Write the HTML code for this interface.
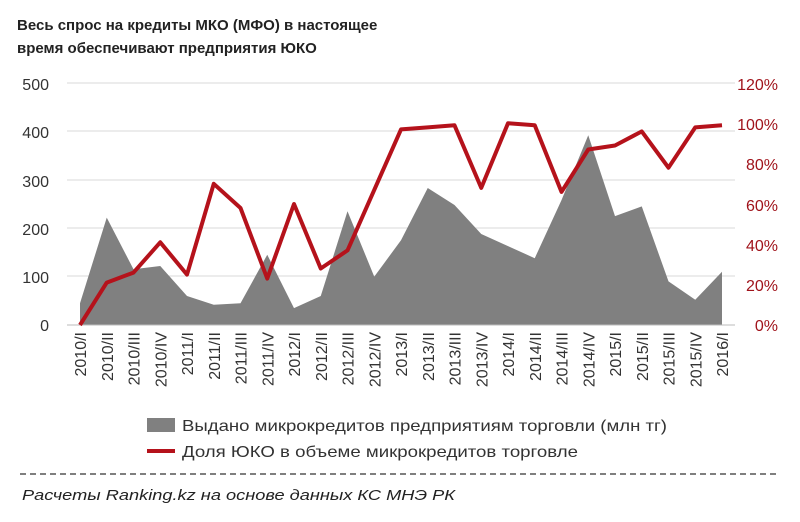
<!DOCTYPE html><html><head><meta charset="utf-8"><style>body{margin:0;background:#fff;font-family:"Liberation Sans",sans-serif}</style></head><body>
<svg width="800" height="517" xmlns="http://www.w3.org/2000/svg" font-family="Liberation Sans, sans-serif">
<text x="17" y="30" font-size="15" font-weight="bold" fill="#222">Весь спрос  на кредиты МКО (МФО) в настоящее</text>
<text x="17" y="53" font-size="15" font-weight="bold" fill="#222">время обеспечивают предприятия ЮКО</text>
<g stroke="#d9d9d9" stroke-width="1">
<line x1="67" x2="735" y1="83" y2="83"/><line x1="67" x2="735" y1="131" y2="131"/><line x1="67" x2="735" y1="180" y2="180"/><line x1="67" x2="735" y1="228" y2="228"/><line x1="67" x2="735" y1="276" y2="276"/>
</g>
<g font-size="16" fill="#333" text-anchor="end">
<text x="49" y="90">500</text><text x="49" y="138">400</text><text x="49" y="187">300</text><text x="49" y="235">200</text><text x="49" y="283">100</text><text x="49" y="331">0</text>
</g>
<g font-size="16" fill="#a0131b" text-anchor="end">
<text x="778" y="90">120%</text><text x="778" y="130">100%</text><text x="778" y="170">80%</text><text x="778" y="211">60%</text><text x="778" y="251">40%</text><text x="778" y="291">20%</text><text x="778" y="331">0%</text>
</g>
<path d="M80,325 L80,303.2 L106.75,217.6 L133.5,269.3 L160.25,266 L187,296 L213.75,304.7 L240.5,303.2 L267.25,254.8 L294,308.1 L320.75,296 L347.5,211.3 L374.25,276.6 L401,240.3 L427.75,188 L454.5,205 L481.25,234 L508,246.1 L534.75,258.2 L561.5,200.1 L588.25,135.3 L615,216.1 L641.75,206.4 L668.5,281.4 L695.25,299.8 L722,271.8 L722,325 Z" fill="#808080"/>
<line x1="67" x2="735" y1="325" y2="325" stroke="#bbb"/>
<path d="M80,325 L106.75,282.6 L133.5,272.6 L160.25,242.3 L187,274.6 L213.75,183.8 L240.5,208 L267.25,278.6 L294,204 L320.75,268.5 L347.5,250.4 L374.25,189.9 L401,129.4 L427.75,127.4 L454.5,125.3 L481.25,187.9 L508,123.3 L534.75,125.3 L561.5,191.9 L588.25,149.5 L615,145.5 L641.75,131.4 L668.5,167.7 L695.25,127.4 L722,125.3" fill="none" stroke="#b5121b" stroke-width="4" stroke-linejoin="round"/>
<g font-size="16" fill="#333" text-anchor="end">
<text transform="translate(86,332) rotate(-90)">2010/I</text>
<text transform="translate(112.75,332) rotate(-90)">2010/II</text>
<text transform="translate(139.5,332) rotate(-90)">2010/III</text>
<text transform="translate(166.25,332) rotate(-90)">2010/IV</text>
<text transform="translate(193,332) rotate(-90)">2011/I</text>
<text transform="translate(219.75,332) rotate(-90)">2011/II</text>
<text transform="translate(246.5,332) rotate(-90)">2011/III</text>
<text transform="translate(273.25,332) rotate(-90)">2011/IV</text>
<text transform="translate(300,332) rotate(-90)">2012/I</text>
<text transform="translate(326.75,332) rotate(-90)">2012/II</text>
<text transform="translate(353.5,332) rotate(-90)">2012/III</text>
<text transform="translate(380.25,332) rotate(-90)">2012/IV</text>
<text transform="translate(407,332) rotate(-90)">2013/I</text>
<text transform="translate(433.75,332) rotate(-90)">2013/II</text>
<text transform="translate(460.5,332) rotate(-90)">2013/III</text>
<text transform="translate(487.25,332) rotate(-90)">2013/IV</text>
<text transform="translate(514,332) rotate(-90)">2014/I</text>
<text transform="translate(540.75,332) rotate(-90)">2014/II</text>
<text transform="translate(567.5,332) rotate(-90)">2014/III</text>
<text transform="translate(594.25,332) rotate(-90)">2014/IV</text>
<text transform="translate(621,332) rotate(-90)">2015/I</text>
<text transform="translate(647.75,332) rotate(-90)">2015/II</text>
<text transform="translate(674.5,332) rotate(-90)">2015/III</text>
<text transform="translate(701.25,332) rotate(-90)">2015/IV</text>
<text transform="translate(728,332) rotate(-90)">2016/I</text>
</g>
<rect x="147" y="418" width="28" height="14" fill="#808080"/>
<text x="182" y="431" font-size="16" fill="#333" textLength="485" lengthAdjust="spacingAndGlyphs">Выдано микрокредитов предприятиям торговли (млн тг)</text>
<line x1="147" x2="175" y1="451" y2="451" stroke="#b5121b" stroke-width="4"/>
<text x="182" y="457" font-size="16" fill="#333" textLength="396" lengthAdjust="spacingAndGlyphs">Доля ЮКО в объеме микрокредитов торговле</text>
<line x1="20" x2="780" y1="474" y2="474" stroke="#333" stroke-width="1.3" stroke-dasharray="6,4"/>
<text x="22" y="500" font-size="15" font-style="italic" fill="#222" textLength="433" lengthAdjust="spacingAndGlyphs">Расчеты Ranking.kz на основе данных  КС МНЭ РК</text>
</svg>
</body></html>
